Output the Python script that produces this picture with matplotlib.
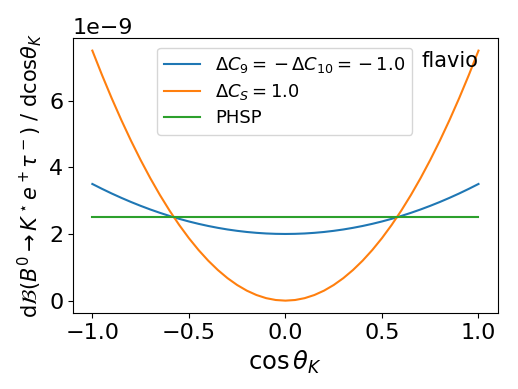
import matplotlib
matplotlib.use("Agg")
import matplotlib.pyplot as plt

# cos(theta_K) grid and curves (units of 1e-9)
cos_theta = [-1.0, -0.95, -0.9, -0.85, -0.8, -0.75, -0.7, -0.65, -0.6, -0.55, -0.5,
             -0.45, -0.4, -0.35, -0.3, -0.25, -0.2, -0.15, -0.1, -0.05, 0.0,
             0.05, 0.1, 0.15, 0.2, 0.25, 0.3, 0.35, 0.4, 0.45, 0.5,
             0.55, 0.6, 0.65, 0.7, 0.75, 0.8, 0.85, 0.9, 0.95, 1.0]

blue_half = [2.0, 2.004, 2.015, 2.034, 2.06, 2.094, 2.135, 2.184, 2.24, 2.304, 2.375,
             2.454, 2.54, 2.634, 2.735, 2.844, 2.96, 3.084, 3.215, 3.354, 3.5]
orange_half = [0.0, 0.019, 0.075, 0.169, 0.3, 0.469, 0.675, 0.919, 1.2, 1.519, 1.875,
               2.269, 2.7, 3.169, 3.675, 4.219, 4.8, 5.419, 6.075, 6.769, 7.5]
dC9 = [v * 1e-9 for v in blue_half[::-1] + blue_half[1:]]
dCS = [v * 1e-9 for v in orange_half[::-1] + orange_half[1:]]
phsp = [2.5e-9] * len(cos_theta)

labels = [r"$\Delta C_9=\,{-}\,\Delta C_{10}=\,{-}\,1.0$", r"$\Delta C_S=1.0$", "PHSP"]

plt.rcParams["font.size"] = 16
fig = plt.figure(figsize=(5.18, 3.89), dpi=100)
ax = fig.add_axes([0.141, 0.195, 0.82, 0.707])

ax.plot(cos_theta, dC9, color="#1f77b4", label=labels[0])
ax.plot(cos_theta, dCS, color="#ff7f0e", label=labels[1])
ax.plot(cos_theta, phsp, color="#2ca02c", label=labels[2])

ax.set_xlabel(r"$\cos\theta_K$", fontsize=17.5)
ax.set_ylabel(r"d$\mathcal{B}$($B^0\to K^\star e^+\tau^-$) / dcos$\theta_K$", fontsize=15)
ax.set_xticks([-1.0, -0.5, 0.0, 0.5, 1.0])
ax.set_yticks([0, 2e-9, 4e-9, 6e-9])

ax.legend(loc="upper left", bbox_to_anchor=(0.185, 0.985), fontsize=13,
          handlelength=2.0, borderaxespad=0.3, labelspacing=0.4)
ax.text(0.82, 0.895, "flavio", transform=ax.transAxes, fontsize=15)

fig.savefig("out.png", dpi=100)
